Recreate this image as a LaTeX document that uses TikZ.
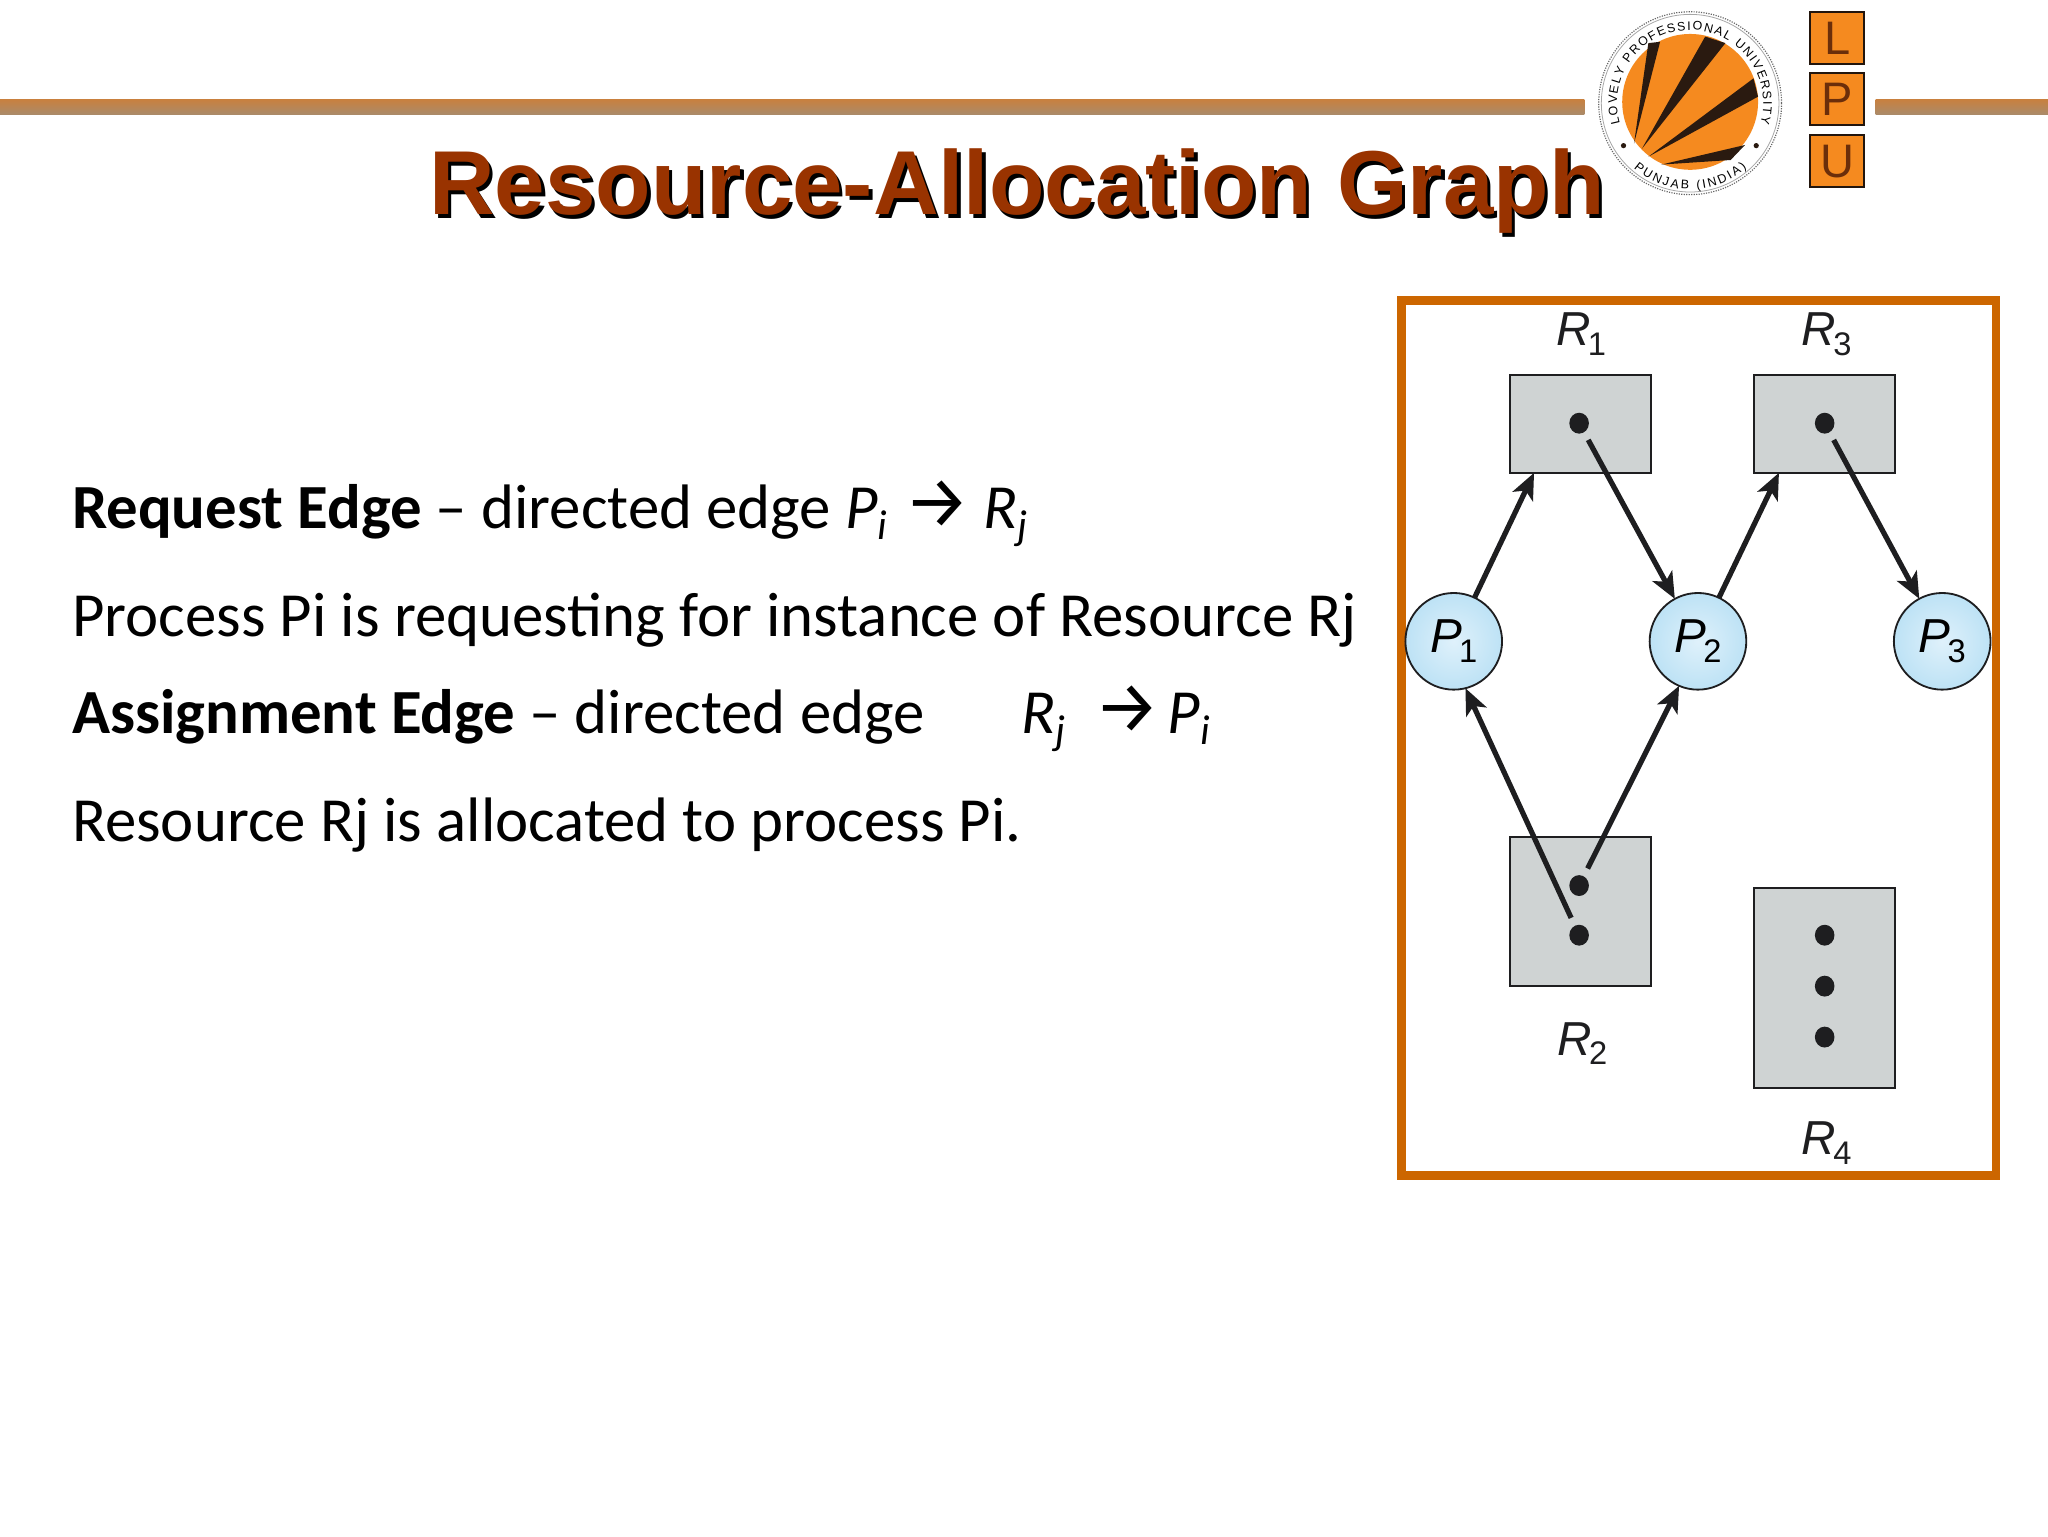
\documentclass[tikz,border=0pt]{standalone}
\usepackage{fontspec}
\setmainfont{Carlito}
\newfontfamily\titlefont{Liberation Sans}
\newfontfamily\lblfont{Liberation Sans}
\newfontfamily\arrowfont{Fira Sans}
\usetikzlibrary{shapes.geometric,arrows.meta,decorations.text,shadings}
\newcommand{\glbl}[2]{{\lblfont\fontsize{36.5}{37}\selectfont\itshape #1\kern-2pt\raisebox{-7.5pt}{\fontsize{25}{25}\selectfont\upshape #2}}}
\newcommand{\ringtext}{\lblfont\fontsize{9.5}{9.5}\selectfont}
\newcommand{\subtxt}[1]{\raisebox{-8.5pt}{\fontsize{32}{32}\selectfont #1}}
\definecolor{framec}{HTML}{CC6600}
\definecolor{restc}{HTML}{CFD3D3}
\definecolor{inkc}{HTML}{1E1E20}
\definecolor{titlec}{HTML}{993300}
\definecolor{logoc}{HTML}{F58A1F}
\definecolor{logod}{HTML}{2A1A10}
\definecolor{lpuletter}{HTML}{6B2E0A}
\definecolor{ruletop}{HTML}{C8803F}
\definecolor{rulebot}{HTML}{A98B6B}
\definecolor{procin}{HTML}{DFF1FB}
\definecolor{procout}{HTML}{BDE2F5}
\tikzset{
  resbox/.style={draw=inkc,line width=1.4pt,fill=restc,inner sep=0pt,outer sep=0pt},
  tok/.style={ellipse,fill=inkc,inner sep=0pt,minimum width=15pt,minimum height=16pt},
  proc/.style={circle,draw=inkc,line width=1.4pt,inner color=procin,outer color=procout,minimum size=74pt,inner sep=0pt,outer sep=0pt},
  edgearrow/.style={draw=inkc,line width=4pt,-{Stealth[length=20pt,width=17pt,inset=5pt]}},
  glabel/.style={inner sep=0pt,text=inkc},
  body/.style={anchor=base west,inner sep=0pt,font=\fontsize{48.1}{48}\selectfont,text=black},
  arrowtext/.style={anchor=base west,inner sep=0pt,font=\arrowfont\fontsize{56}{56}\selectfont,text=black},
  titletext/.style={anchor=base west,inner sep=0pt,font=\titlefont\bfseries\fontsize{69.5}{69.5}\selectfont},
  lpubox/.style={draw=logod!80!black,line width=1.6pt,fill=logoc,inner sep=0pt,minimum width=41pt,minimum height=40pt,text=lpuletter,font=\lblfont\fontsize{36}{36}\selectfont}
}
\begin{document}
\begin{tikzpicture}[x=1pt,y=-1pt]
\useasboundingbox (0,0) rectangle (1568,1176);
\fill[white] (0,0) rectangle (1568,1176);
% header rule
\shade[top color=ruletop,bottom color=rulebot] (0,76) rectangle (1213,88);
\shade[top color=ruletop,bottom color=rulebot] (1436,76) rectangle (1568,88);
% title
\node[titletext,text=black] (titleshadow) at (331,167) {Resource-Allocation Graph};
\node[titletext,text=titlec] (title) at (328.5,164.5) {Resource-Allocation Graph};
% logo
\fill[white] (1294,79) circle (70);
\draw[gray!80!black,line width=.9pt,densely dotted] (1294,79) circle (70);
\draw[gray!70,line width=.6pt] (1294,79) circle (68);
\fill[logoc] (1294,78) circle (52);
\fill[logod] (1251,110) -- (1262,33) -- (1271,32) -- cycle;
\fill[logod] (1257,114) -- (1305.5,28) -- (1321,33) -- cycle;
\fill[logod] (1262,120) -- (1342.5,60) -- (1346,74) -- cycle;
\fill[logod] (1272,126) -- (1336,111) -- (1325,122.5) -- cycle;
\fill[logod] (1243,111.5) circle (2);
\fill[logod] (1344.6,111.5) circle (2);
\begin{scope}[shift={(1294,79)},yscale=-1]
\path[decorate,decoration={text along path,text align=fit to path,text={|\ringtext|LOVELY PROFESSIONAL UNIVERSITY}}]
  (196:56) arc[start angle=196,end angle=-16,radius=56];
\path[decorate,decoration={text along path,text align=fit to path,text={|\ringtext|PUNJAB (INDIA)}}]
  (229:66) arc[start angle=229,end angle=311,radius=66];
\end{scope}
\node[lpubox] (lpuL) at (1406.5,29) {L};
\node[lpubox] (lpuP) at (1406.5,76) {P};
\node[lpubox] (lpuU) at (1406.5,123.5) {U};
% body text
\node[body] (t1) at (55,404.5) {\textbf{Request Edge} – directed edge \textit{P\subtxt{i}}};
\node[arrowtext] (t1a) at (692,404) {→};
\node[body] (t1b) at (753,404.5) {\textit{R\subtxt{j}}};
\node[body] (t2) at (55,487.5) {Process Pi is requesting for instance of Resource Rj};
\node[body] (t3) at (55,561.5) {\textbf{Assignment Edge} – directed edge};
\node[body] (t3b) at (782,561.5) {\textit{R\subtxt{j}}};
\node[arrowtext] (t3a) at (838,561) {→};
\node[body] (t3c) at (894,561.5) {\textit{P\subtxt{i}}};
\node[body] (t4) at (55,644.5) {Resource Rj is allocated to process Pi.};
% frame
\node[draw=framec,line width=6.5pt,inner sep=0pt,outer sep=0pt,minimum width=455pt,minimum height=670pt] (frame) at (1300.5,565) {};
% resources
\node[resbox,minimum width=108pt,minimum height=75pt] (R1) at (1210,324.5) {};
\node[resbox,minimum width=108pt,minimum height=75pt] (R3) at (1397,324.5) {};
\node[resbox,minimum width=108pt,minimum height=114pt] (R2) at (1210,698) {};
\node[resbox,minimum width=108pt,minimum height=153pt] (R4) at (1397,756.5) {};
\node[tok] (d1) at (1209,324) {};
\node[tok] (d3) at (1397,324) {};
\node[tok] (d2a) at (1209,678) {};
\node[tok] (d2b) at (1209,716) {};
\node[tok] (d4a) at (1397,716) {};
\node[tok] (d4b) at (1397,755) {};
\node[tok] (d4c) at (1397,794) {};
% processes
\node[proc] (P1) at (1113,491) {\glbl{P}{1}};
\node[proc] (P2) at (1300,491) {\glbl{P}{2}};
\node[proc] (P3) at (1487,491) {\glbl{P}{3}};
% labels
\node[glabel] (lR1) at (1210.5,256) {\glbl{R}{1}};
\node[glabel] (lR3) at (1398.5,256) {\glbl{R}{3}};
\node[glabel] (lR2) at (1211.5,799) {\glbl{R}{2}};
\node[glabel] (lR4) at (1398.5,875) {\glbl{R}{4}};
% edges
\coordinate (in1) at (1174.5,362);
\coordinate (in3) at (1362,362);
\draw[edgearrow] (P1) -- (in1);
\draw[edgearrow] (P2) -- (in3);
\draw[edgearrow,shorten <=6.5pt] (d1) -- (P2);
\draw[edgearrow,shorten <=6.5pt] (d3) -- (P3);
\draw[edgearrow,shorten <=6.5pt] (d2b) -- (P1.-76);
\draw[edgearrow,shorten <=6.5pt] (d2a) -- (P2.-113);
\end{tikzpicture}
\end{document}
